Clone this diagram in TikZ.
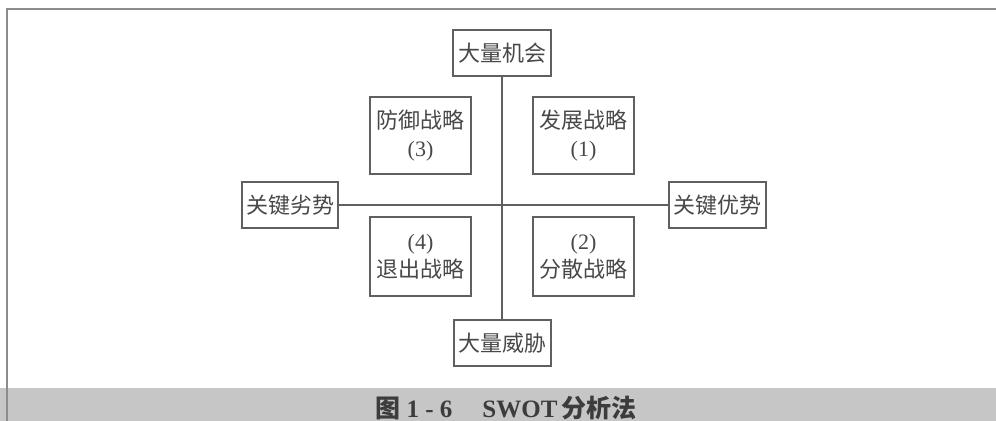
\documentclass[tikz,border=0pt]{standalone}
\usepackage{fontspec}
\setmainfont{Liberation Serif}
\newfontfamily\cjk{Noto Sans CJK SC}
\definecolor{linegray}{HTML}{606060}
\definecolor{textgray}{HTML}{484848}
\definecolor{framegray}{HTML}{8C8C8C}
\definecolor{bandgray}{HTML}{C6C6C6}
\definecolor{capgray}{HTML}{3C3C3C}
\begin{document}
\begin{tikzpicture}[x=0.5pt,y=-0.5pt,
  box/.style={draw=linegray, line width=0.8pt, inner sep=0pt, align=center,
    text=textgray, font=\fontsize{11}{14}\selectfont\cjk},
  axis/.style={draw=linegray, line width=0.75pt}]
\useasboundingbox (0,0) rectangle (996,421);
\fill[white] (0,0) rectangle (996,421);
% bottom band and frame
\fill[bandgray] (0,388) rectangle (996,421);
\draw[framegray, line width=0.6pt] (7,421) -- (7,9) -- (996,9);
% boxes
\node[box, minimum width=49pt, minimum height=23pt] (opp) at (502,53) {大量机会};
\node[box, minimum width=48.5pt, minimum height=23pt] (thr) at (502.5,343) {大量威胁};
\node[box, minimum width=48.25pt, minimum height=23pt] (wk) at (290,205) {关键劣势};
\node[box, minimum width=48.5pt, minimum height=23pt] (st) at (717.5,205) {关键优势};
\node[box, minimum width=50.5pt, minimum height=38.5pt] (def) at (420.5,135.5) {防御战略\\{\rmfamily(3)}};
\node[box, minimum width=50.5pt, minimum height=38.5pt] (dev) at (583.5,135.5) {发展战略\\{\rmfamily(1)}};
\node[box, minimum width=50.25pt, minimum height=39.5pt] (ext) at (420.5,256.5) {{\rmfamily(4)}\\退出战略};
\node[box, minimum width=50.5pt, minimum height=39.5pt] (div) at (583.5,256.5) {{\rmfamily(2)}\\分散战略};
% axes
\draw[axis] (opp.south) -- (opp.south |- thr.north);
\draw[axis] (wk.east) -- (st.west);
% caption
\node[text=capgray, inner sep=0pt, font=\fontsize{12.5}{14}\selectfont] (cap) at (506,408)
  {{\cjk\bfseries 图}\ \textbf{1 - 6}\hspace{1.2em}\textbf{SWOT}\,{\cjk\bfseries 分析法}};
\end{tikzpicture}
\end{document}
